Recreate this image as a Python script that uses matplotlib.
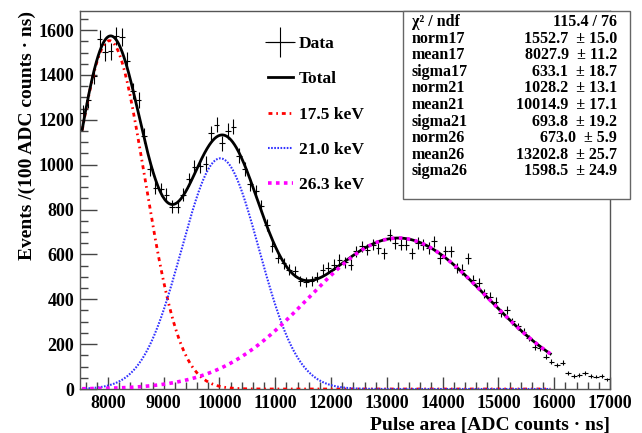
import numpy as np
import matplotlib
matplotlib.use("Agg")
import matplotlib.pyplot as plt
from matplotlib.patches import Rectangle
from matplotlib.lines import Line2D
from matplotlib.ticker import MultipleLocator

plt.rcParams['font.family'] = ['Liberation Serif', 'DejaVu Serif']
plt.rcParams['font.weight'] = 'bold'

# ---- data (histogram, 100-wide bins from 7500 to 17000) ----
bin_start = 7500
bin_width = 100
counts = [1232, 1290, 1395, 1560, 1502, 1505, 1575, 1570, 1462, 1329,
          1290, 1128, 979, 898, 890, 867, 812, 812, 867, 934,
          990, 995, 1005, 1140, 1178, 1095, 1150, 1170, 1040, 980,
          912, 881, 815, 730, 636, 586, 560, 532, 524, 480,
          478, 483, 500, 532, 541, 554, 577, 565, 554, 614,
          636, 621, 643, 628, 606, 688, 651, 643, 643, 606,
          651, 643, 629, 658, 583, 614, 614, 539, 532, 583,
          487, 472, 427, 412, 390, 338, 353, 301, 279, 255,
          227, 189, 182, 144, 122, 107, 117, 73, 58, 62,
          70, 58, 55, 58, 43]

# ---- fit parameters (from stats box) ----
param_names = ["norm17", "mean17", "sigma17", "norm21", "mean21", "sigma21",
               "norm26", "mean26", "sigma26"]
param_vals = [1552.7, 8027.9, 633.1, 1028.2, 10014.9, 693.8, 673.0, 13202.8, 1598.5]
param_errs = [15.0, 11.2, 18.7, 13.1, 17.1, 19.2, 5.9, 25.7, 24.9]
chi2_ndf = "115.4 / 76"
fit_range = (7540, 15930)

legend_labels = ["Data", "Total", "17.5 keV", "21.0 keV", "26.3 keV"]

fig = plt.figure(figsize=(6.42, 4.33), dpi=100)
ax = fig.add_axes([0.1246, 0.1016, 0.8256, 0.8730])

n = len(counts)
centers = bin_start + bin_width * (np.arange(n) + 0.5)
cnt = np.array(counts, dtype=float)
ax.errorbar(centers, cnt, xerr=bin_width / 2, yerr=np.sqrt(cnt), fmt='none',
            ecolor='black', elinewidth=0.8, capsize=0, zorder=3)

xf = np.linspace(fit_range[0], fit_range[1], 800)
def gaus(x, a, m, s):
    return a * np.exp(-0.5 * ((x - m) / s) ** 2)
g17 = gaus(xf, *param_vals[0:3])
g21 = gaus(xf, *param_vals[3:6])
g26 = gaus(xf, *param_vals[6:9])
tot = g17 + g21 + g26

red_ls = (0, (1.4, 1.4, 0.6, 1.4))
blue_ls = (0, (0.8, 0.7))
mag_ls = (0, (1, 1.2))
ax.plot(xf, g17, color='#ff0000', lw=2.0, ls=red_ls, zorder=4)
ax.plot(xf, g21, color='#3333ff', lw=1.5, ls=blue_ls, zorder=4)
ax.plot(xf, g26, color='#ff00ff', lw=2.6, ls=mag_ls, zorder=5)
ax.plot(xf, tot, color='black', lw=2.0, zorder=4)

ax.set_xlim(7500, 17000)
ax.set_ylim(0, 1685)
ax.xaxis.set_major_locator(MultipleLocator(1000))
ax.xaxis.set_minor_locator(MultipleLocator(200))
ax.yaxis.set_major_locator(MultipleLocator(200))
ax.yaxis.set_minor_locator(MultipleLocator(50))
ax.tick_params(which='both', direction='in', top=False, right=False, color='#444444')
ax.tick_params(which='major', length=12, width=1.0, labelsize=13, pad=4)
ax.tick_params(which='minor', length=6, width=1.0)
ax.tick_params(axis='x', which='major', length=9)
ax.tick_params(axis='x', which='minor', length=5)
for sp in ax.spines.values():
    sp.set_color('#555555')
    sp.set_linewidth(1.0)
for lab in ax.get_xticklabels() + ax.get_yticklabels():
    lab.set_fontweight('bold')

ax.set_xlabel("Pulse area [ADC counts \u00b7 ns]", fontsize=14, fontweight='bold', loc='right', labelpad=4)
ax.set_ylabel("Events /(100 ADC counts \u00b7 ns)", fontsize=14, fontweight='bold', loc='top', labelpad=2)

handles = [
    Line2D([0], [0], color='black', lw=0.8, marker='+', markersize=22, markeredgewidth=0.8, linestyle='-'),
    Line2D([0], [0], color='black', lw=2.0),
    Line2D([0], [0], color='#ff0000', lw=2.0, ls=red_ls),
    Line2D([0], [0], color='#3333ff', lw=1.5, ls=blue_ls),
    Line2D([0], [0], color='#ff00ff', lw=2.6, ls=mag_ls),
]
leg = ax.legend(handles, legend_labels, loc='upper left', bbox_to_anchor=(0.325, 0.975),
                frameon=False, labelspacing=1.1, handlelength=1.45,
                handletextpad=0.35, prop={'weight': 'bold', 'size': 12.5})

# ---- stats box ----
bx0, by0, bx1, by1 = 403 / 642, 1 - 199 / 433, 630 / 642, 1 - 11 / 433
fig.patches.append(Rectangle((bx0, by0), bx1 - bx0, by1 - by0, transform=fig.transFigure,
                             facecolor='white', edgecolor='#666666', lw=1.0, zorder=10))
rows = [("\u03c7\u00b2 / ndf", chi2_ndf)] + [
    (nm, f"{v:.1f}  \u00b1 {e:.1f}") for nm, v, e in zip(param_names, param_vals, param_errs)]
top_y = 1 - 22 / 433
step = 16.6 / 433
for i, (l, r) in enumerate(rows):
    yy = top_y - i * step
    fig.text(412 / 642, yy, l, ha='left', va='center', fontsize=11.5, fontweight='bold', zorder=11)
    fig.text(617 / 642, yy, r, ha='right', va='center', fontsize=11.5, fontweight='bold', zorder=11)

fig.savefig("out.png", dpi=100)
